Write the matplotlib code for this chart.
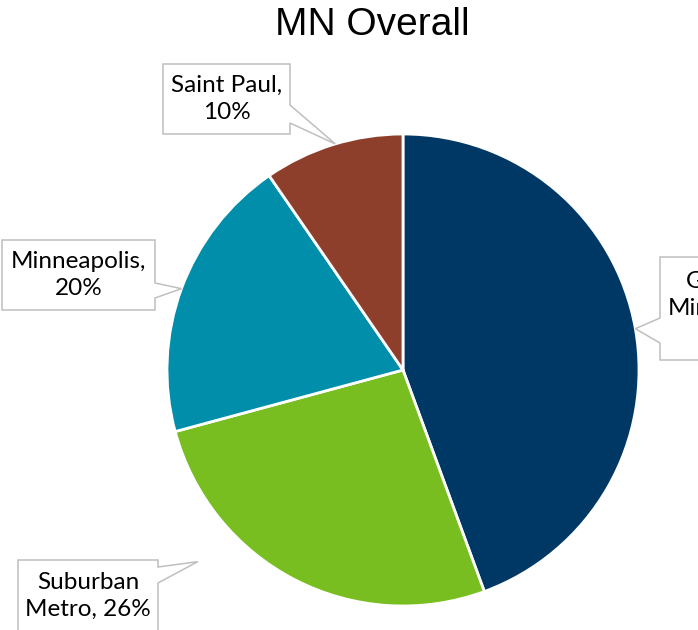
import textwrap

import numpy as np
import matplotlib.pyplot as plt
from matplotlib.patches import Polygon

W, H = 698, 630

categories = ['Greater Minnesota', 'Suburban Metro', 'Minneapolis', 'Saint Paul']
shares = [44.4, 26.4, 19.6, 9.6]
colors = ['#003865', '#78BE21', '#008EAA', '#8D3F2B']

# callout layout, pixels from the top-left corner
boxes = [(660, 257, 794, 360), (18, 560, 158, 632), (2, 240, 155, 310), (163, 64, 290, 134)]
sides = ['left', 'right', 'right', 'right']
bases = [(318, 343), (567, 583), (283, 298), (105, 123)]
tip_tweak = [(0, 1.0), (-19.6, 1.19), (0, 1.0), (-0.6, 1.0)]  # (angle offset, radius factor)


def callout_vertices(box, side, base, tip):
    x0, y0, x1, y1 = box
    b0, b1 = base
    if side == 'right':
        pts = [(x0, y0), (x1, y0), (x1, b0), tip, (x1, b1), (x1, y1), (x0, y1)]
    else:
        pts = [(x0, y0), (x1, y0), (x1, y1), (x0, y1), (x0, b1), tip, (x0, b0)]
    return [(x, H - y) for x, y in pts]


fig = plt.figure(figsize=(W / 100, H / 100), dpi=100)
ax = fig.add_axes([0, 0, 1, 1])

center = (403, H - 370)
radius = 236
wedges, _ = ax.pie(shares, colors=colors, startangle=90, counterclock=False,
                   center=center, radius=radius,
                   wedgeprops=dict(edgecolor='white', linewidth=2))
ax.set_xlim(0, W)
ax.set_ylim(0, H)
ax.axis('off')

for i, w in enumerate(wedges):
    mid = np.deg2rad((w.theta1 + w.theta2) / 2 + tip_tweak[i][0])
    rr = radius * tip_tweak[i][1]
    tip = (center[0] + rr * np.cos(mid), H - (center[1] + rr * np.sin(mid)))

    poly = Polygon(callout_vertices(boxes[i], sides[i], bases[i], tip), closed=True,
                   facecolor='white', edgecolor='#BFBFBF', linewidth=1.1, zorder=5)
    ax.add_patch(poly)

    label = textwrap.fill(f'{categories[i]}, {shares[i]:.0f}%', width=12)
    x0, y0, x1, y1 = boxes[i]
    ax.text((x0 + x1) / 2, H - (y0 + y1) / 2, label, ha='center', va='center',
            fontsize=17.5, family='Lato', linespacing=1.35, color='black', zorder=6)

fig.text(372 / W, 1 - 35 / H, 'MN Overall', ha='center', va='baseline',
         fontsize=28, family='Liberation Sans')

fig.savefig('out.png', dpi=100)
